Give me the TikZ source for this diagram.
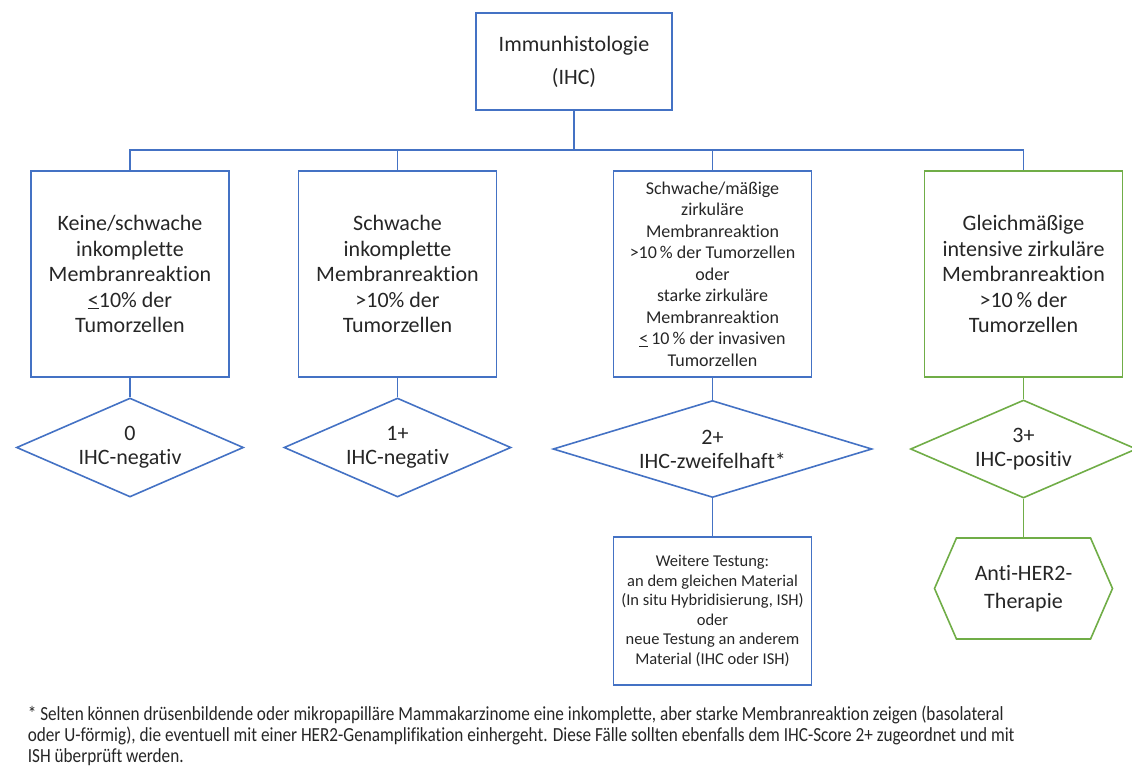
\documentclass[tikz,border=0pt]{standalone}
\usepackage{fontspec}
\setmainfont{Carlito}[Ligatures={NoCommon,NoRequired,NoContextual}]
\usepackage{graphicx}
\usepackage{tikz}
\usetikzlibrary{shapes.geometric,shapes.symbols}
\definecolor{ihcblue}{HTML}{4472C4}
\definecolor{ihcgreen}{HTML}{70AD47}
\definecolor{ihctext}{HTML}{262626}

\begin{document}
\begin{tikzpicture}
	[x=1pt, y=-1pt, line width=1.6pt, text=ihctext,
	topbox/.style	= {rectangle, draw=ihcblue, align=center, inner sep=0pt, minimum width=196pt, minimum height=97pt, font=\fontsize{22}{33}\selectfont},
	finding/.style	= {rectangle, draw=ihcblue, align=center, inner sep=0pt, minimum width=198pt, minimum height=206pt, font=\fontsize{22}{25.5}\selectfont},
	score/.style	= {diamond, draw=ihcblue, align=center, inner sep=0pt, shape aspect=2.3, minimum width=227pt, minimum height=99pt, font=\fontsize{22}{24}\selectfont},
	further/.style	= {rectangle, draw=ihcblue, align=center, inner sep=0pt, minimum width=198pt, minimum height=148pt, font=\fontsize{16.5}{19.5}\selectfont},
	therapy/.style	= {signal, signal to=west and east, signal pointer angle=133, draw=ihcgreen, align=center, inner sep=0pt, minimum width=178pt, minimum height=101pt, font=\fontsize{22}{28}\selectfont},
	link/.style		= {draw=ihcblue},
	note/.style		= {anchor=north west, inner sep=0pt, font=\fontsize{20}{21}\selectfont}]

	\useasboundingbox (0,0) rectangle (1132,766);

	\node at (574, 61.5)	[topbox]	(ihc)	{Immunhistologie\\(IHC)};
	\coordinate (bus) at (574, 150);

	\node at (130, 274)		[finding]	(f0)	{Keine/schwache\\inkomplette\\Membranreaktion\\\underline{<}10\% der\\Tumorzellen};
	\node at (397.5, 274)	[finding]	(f1)	{Schwache\\inkomplette\\Membranreaktion\\>10\% der\\Tumorzellen};
	\node at (712.5, 274)	[finding, font=\fontsize{18}{21.5}\selectfont]	(f2)	{Schwache/mäßige\\zirkuläre\\Membranreaktion\\>10\,\% der Tumorzellen\\oder\\starke zirkuläre\\Membranreaktion\\\underline{<}\,10\,\% der invasiven\\Tumorzellen};
	\node at (1023.5, 274)	[finding, draw=ihcgreen]	(f3)	{Gleichmäßige\\intensive zirkuläre\\Membranreaktion\\>10\,\% der\\Tumorzellen};

	\node at (130, 447.5)	[score]		(s0)	{0\\IHC-negativ};
	\node at (397.5, 447.5)	[score]		(s1)	{1+\\IHC-negativ};
	\node at (712.5, 449)	[score, shape aspect=3.3, minimum width=319pt, minimum height=97pt]	(s2)	{2+\\IHC-zweifelhaft*};
	\node at (1023.5, 449)	[score, draw=ihcgreen, minimum width=226pt, minimum height=98pt]	(s3)	{3+\\IHC-positiv};

	\node at (712.5, 611)	[further]	(test)	{Weitere Testung:\\an dem gleichen Material\\(In situ Hybridisierung, ISH)\\oder\\neue Testung an anderem\\Material (IHC oder ISH)};
	\node at (1023.5, 588.5)	[therapy]	(her2)	{Anti-HER2-\\Therapie};

	\draw [link] (ihc.south) -- (bus);
	\draw [link] (bus) -| (f0.north);
	\draw [link] (bus) -| (f1.north);
	\draw [link] (bus) -| (f2.north);
	\draw [link] (bus) -| (f3.north);

	\draw [link] (f0.south) -- (s0.north);
	\draw [link] (f1.south) -- (s1.north);
	\draw [link] (f2.south) -- (s2.north);
	\draw [link] (s2.south) -- (test.north);
	\draw [draw=ihcgreen] (f3.south) -- (s3.north);
	\draw [draw=ihcgreen] (s3.south) -- (her2.north);

	% footnote, squeezed like the original
	\node at (27, 705)	[note]	(fn)	{\scalebox{0.86}[1]{\begin{tabular}{@{}l@{}}
		* Selten können drüsenbildende oder mikropapilläre Mammakarzinome eine inkomplette, aber starke Membranreaktion zeigen (basolateral\\
		oder U-förmig), die eventuell mit einer HER2-Genamplifikation einhergeht. Diese Fälle sollten ebenfalls dem IHC-Score 2+ zugeordnet und mit\\
		ISH überprüft werden.
	\end{tabular}}};

\end{tikzpicture}
\end{document}
